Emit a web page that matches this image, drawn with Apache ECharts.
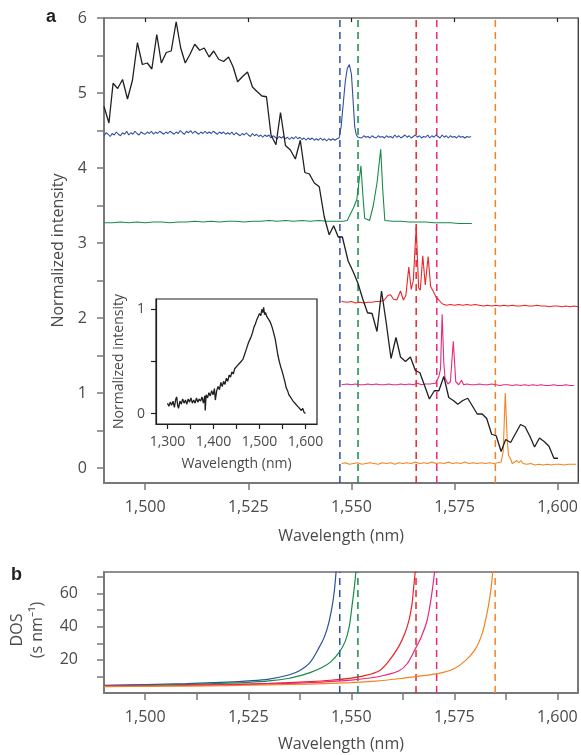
<!DOCTYPE html>
<html>
<head>
<meta charset="utf-8">
<script src="https://cdn.jsdelivr.net/npm/echarts@6/dist/echarts.min.js"></script>
<style>html,body{margin:0;padding:0;background:#fff}#c{width:581px;height:755px}</style>
</head>
<body>
<div id="c"></div>
<script>
// ---------- DATA ----------
const resonances = [1547.2, 1551.6, 1565.7, 1570.7, 1584.9];
const colors = ['#2d4f9e', '#188a4a', '#e8252a', '#e6287f', '#f58220'];

const xTicksMain = [1500, 1525, 1550, 1575, 1600];
const xMinorBottom = [1500, 1512.5, 1525, 1537.5, 1550, 1562.5, 1575, 1587.5, 1600];
const yTicksMain = [0, 0.5, 1, 1.5, 2, 2.5, 3, 3.5, 4, 4.5, 5, 5.5, 6];
const yLabelsMain = [0, 1, 2, 3, 4, 5, 6];
const insetXTicks = [1300, 1350, 1400, 1450, 1500, 1550, 1600];
const insetXLabels = [1300, 1400, 1500, 1600];
const insetYTicks = [0, 0.5, 1];
const insetYLabels = [0, 1];
const dosYTicks = [10, 20, 30, 40, 50, 60, 70];
const dosYLabels = [20, 40, 60];

// black broad spectrum (panel a)
const pumpSpectrum = [
[1490.0,4.82],[1491.2,4.60],[1492.2,5.13],[1493.3,5.06],[1494.5,5.18],[1495.7,4.92],[1496.9,5.17],[1498.1,5.67],
[1499.3,5.38],[1500.5,5.40],[1501.6,5.32],[1502.8,5.78],[1503.9,5.40],[1505.1,5.54],[1506.3,5.56],[1507.5,5.95],
[1508.6,5.60],[1509.7,5.40],[1510.8,5.51],[1512.0,5.65],[1513.2,5.57],[1514.3,5.60],[1515.5,5.48],[1516.6,5.56],
[1517.8,5.45],[1519.0,5.42],[1520.2,5.48],[1521.3,5.35],[1522.4,5.15],[1523.6,5.22],[1524.8,5.28],[1526.0,5.08],
[1527.1,5.02],[1528.3,4.96],[1529.4,4.95],[1530.5,4.44],[1531.7,4.31],[1532.8,4.74],[1534.0,4.30],[1535.2,4.24],
[1536.4,4.12],[1537.6,4.37],[1538.7,3.94],[1539.8,3.92],[1541.0,3.80],[1542.2,3.75],[1543.4,3.35],[1544.6,3.11],
[1545.7,3.23],[1546.8,3.08],[1547.8,3.08],[1549.2,2.76],[1550.4,2.62],[1551.6,2.46],[1552.7,2.26],[1553.9,2.07],
[1555.0,2.06],[1556.2,1.82],[1557.3,2.36],[1558.4,1.95],[1559.6,1.46],[1560.8,1.74],[1561.9,1.48],[1563.1,1.42],
[1564.3,1.48],[1565.5,1.30],[1566.6,1.27],[1567.8,1.09],[1568.9,0.92],[1570.1,1.03],[1571.2,1.03],[1572.4,1.22],
[1573.6,0.94],[1574.7,0.90],[1575.8,0.85],[1577.0,0.90],[1578.2,0.93],[1579.3,0.83],[1580.5,0.72],[1581.7,0.72],
[1582.8,0.66],[1584.0,0.45],[1585.1,0.43],[1586.3,0.22],[1587.4,0.38],[1588.6,0.34],[1589.8,0.46],[1591.0,0.58],
[1592.1,0.55],[1593.3,0.42],[1594.4,0.28],[1595.6,0.40],[1596.8,0.35],[1597.9,0.29],[1599.1,0.13],[1600.1,0.13]
];

const blueSpectrum = [
[1490,4.43],[1490.5,4.47],[1491,4.45],[1491.5,4.42],[1492,4.46],[1492.5,4.44],[1493,4.48],[1493.5,4.45],[1494,4.43],[1494.5,4.47],
[1495,4.45],[1495.5,4.49],[1496,4.44],[1496.5,4.47],[1497,4.45],[1497.5,4.49],[1498,4.46],[1498.5,4.44],[1499,4.48],[1499.5,4.46],
[1500,4.45],[1500.5,4.48],[1501,4.46],[1501.5,4.49],[1502,4.45],[1502.5,4.48],[1503,4.46],[1503.5,4.49],[1504,4.47],[1504.5,4.45],
[1505,4.48],[1505.5,4.46],[1506,4.49],[1506.5,4.47],[1507,4.45],[1507.5,4.48],[1508,4.46],[1508.5,4.50],[1509,4.47],[1509.5,4.45],
[1510,4.49],[1510.5,4.47],[1511,4.50],[1511.5,4.46],[1512,4.49],[1512.5,4.47],[1513,4.45],[1513.5,4.48],[1514,4.46],[1514.5,4.49],
[1515,4.46],[1515.5,4.48],[1516,4.46],[1516.5,4.49],[1517,4.47],[1517.5,4.45],[1518,4.48],[1518.5,4.46],[1519,4.48],[1519.5,4.45],
[1520,4.47],[1520.5,4.45],[1521,4.48],[1521.5,4.44],[1522,4.47],[1522.5,4.45],[1523,4.43],[1523.5,4.46],[1524,4.44],[1524.5,4.47],
[1525,4.44],[1525.5,4.42],[1526,4.46],[1526.5,4.43],[1527,4.45],[1527.5,4.42],[1528,4.44],[1528.5,4.41],[1529,4.44],[1529.5,4.42],
[1530,4.44],[1530.5,4.40],[1531,4.43],[1531.5,4.41],[1532,4.39],[1532.5,4.42],[1533,4.40],[1533.5,4.42],[1534,4.39],[1534.5,4.41],
[1535,4.38],[1535.5,4.41],[1536,4.39],[1536.5,4.42],[1537,4.39],[1537.5,4.41],[1538,4.38],[1538.5,4.40],[1539,4.37],[1539.5,4.40],
[1540,4.38],[1540.5,4.40],[1541,4.37],[1541.5,4.39],[1542,4.37],[1542.5,4.40],[1543,4.37],[1543.5,4.39],[1544,4.36],[1544.5,4.39],
[1545,4.37],[1545.5,4.39],[1546,4.37],[1546.5,4.39],[1547,4.40],[1547.5,4.55],[1548,4.85],[1548.5,5.15],[1549,5.33],[1549.5,5.38],
[1550,5.25],[1550.4,4.90],[1550.8,4.55],[1551.2,4.44],[1551.6,4.41],[1552,4.43],[1552.5,4.40],[1553,4.43],[1553.5,4.41],[1554,4.42],
[1554.5,4.40],[1555,4.43],[1555.5,4.41],[1556,4.40],[1556.5,4.43],[1557,4.41],[1557.5,4.42],[1558,4.40],[1558.5,4.43],[1559,4.41],
[1559.5,4.42],[1560,4.40],[1560.5,4.44],[1561,4.41],[1561.5,4.43],[1562,4.40],[1562.5,4.42],[1563,4.44],[1563.5,4.41],[1564,4.43],
[1564.5,4.40],[1565,4.42],[1565.5,4.44],[1566,4.41],[1566.5,4.43],[1567,4.40],[1567.5,4.42],[1568,4.41],[1568.5,4.44],[1569,4.40],
[1569.5,4.43],[1570,4.41],[1570.5,4.44],[1571,4.42],[1571.5,4.40],[1572,4.44],[1572.5,4.41],[1573,4.43],[1573.5,4.40],[1574,4.43],
[1574.5,4.41],[1575,4.42],[1575.5,4.40],[1576,4.43],[1576.5,4.41],[1577,4.42],[1577.5,4.40],[1578,4.42],[1578.5,4.41],[1579,4.42]
];

const greenSpectrum = [
[1490,3.27],[1492,3.27],[1494,3.28],[1496,3.27],[1498,3.28],[1500,3.27],[1502,3.28],[1504,3.28],[1506,3.27],[1508,3.28],
[1510,3.28],[1512,3.29],[1514,3.28],[1516,3.29],[1518,3.28],[1520,3.29],[1522,3.29],[1524,3.28],[1526,3.29],[1528,3.29],
[1530,3.30],[1532,3.29],[1534,3.30],[1536,3.29],[1538,3.30],[1540,3.29],[1542,3.30],[1544,3.29],[1546,3.29],[1548,3.29],
[1549,3.30],[1549.5,3.36],[1550.5,3.47],[1551.3,3.58],[1551.8,3.80],[1552.3,4.03],[1552.7,3.70],[1553.2,3.33],[1554.4,3.30],
[1555.3,3.50],[1556.2,3.80],[1557.1,4.25],[1557.6,3.70],[1558.1,3.30],[1560,3.29],[1562,3.29],[1564,3.28],[1566,3.28],
[1568,3.28],[1570,3.27],[1572,3.27],[1574,3.27],[1576,3.26],[1578,3.26],[1579.2,3.26]
];

const redSpectrum = [
[1547.6,2.22],[1549,2.21],[1550,2.22],[1551,2.20],[1552,2.21],[1553,2.20],[1554,2.21],[1555,2.21],[1556,2.22],[1557,2.22],
[1558,2.24],[1558.8,2.30],[1559.5,2.31],[1560.2,2.25],[1561,2.24],[1561.9,2.36],[1562.6,2.24],[1563.2,2.30],[1563.9,2.68],
[1564.5,2.38],[1565.0,2.50],[1565.7,3.21],[1566.3,2.40],[1566.7,2.37],[1567.3,2.83],[1567.9,2.44],[1568.6,2.82],[1569.2,2.42],
[1569.9,2.35],[1570.5,2.28],[1571.2,2.24],[1572,2.19],[1573,2.17],[1574,2.18],[1575,2.17],[1576,2.18],[1577,2.17],[1578,2.18],
[1579,2.17],[1580,2.18],[1581,2.17],[1582,2.16],[1583,2.17],[1584,2.16],[1585,2.17],[1586,2.16],[1587,2.17],[1588,2.16],
[1589,2.17],[1590,2.16],[1591,2.16],[1592,2.17],[1593,2.16],[1594,2.16],[1595,2.17],[1596,2.16],[1597,2.16],[1598,2.15],
[1599,2.16],[1600,2.16],[1601,2.15],[1602,2.16],[1603,2.15],[1604,2.16],[1605,2.15]
];

const pinkSpectrum = [
[1547.6,1.11],[1549,1.12],[1550,1.11],[1551,1.12],[1552,1.11],[1553,1.11],[1554,1.12],[1555,1.11],[1556,1.12],[1557,1.11],
[1558,1.11],[1559,1.12],[1560,1.11],[1561,1.11],[1562,1.12],[1563,1.11],[1564,1.12],[1565,1.11],[1566,1.13],[1567,1.11],
[1568,1.12],[1569,1.12],[1570.4,1.13],[1571.2,1.22],[1571.6,1.32],[1572.0,2.05],[1572.4,1.40],[1572.7,1.20],[1573.0,1.22],
[1573.4,1.12],[1574.0,1.15],[1574.7,1.69],[1575.3,1.15],[1576,1.11],[1576.7,1.17],[1577.2,1.11],[1578,1.12],[1579,1.11],
[1580,1.11],[1581,1.12],[1582,1.11],[1583,1.11],[1584,1.12],[1585,1.11],[1586,1.10],[1587,1.11],[1588,1.11],[1589,1.10],
[1590,1.11],[1591,1.10],[1592,1.11],[1593,1.10],[1594,1.11],[1595,1.10],[1596,1.11],[1597,1.10],[1598,1.10],[1599,1.11],
[1600,1.10],[1601,1.10],[1602,1.11],[1603,1.10],[1604,1.10]
];

const orangeSpectrum = [
[1547.6,0.06],[1548.5,0.07],[1549.5,0.05],[1550.5,0.06],[1551.5,0.07],[1552.5,0.05],[1553.5,0.06],[1554.5,0.07],[1555.5,0.06],
[1556.5,0.05],[1557.5,0.07],[1558.5,0.06],[1559.5,0.07],[1560.5,0.05],[1561.5,0.07],[1562.5,0.06],[1563.5,0.07],[1564.5,0.06],
[1565.5,0.08],[1566.5,0.06],[1567.5,0.07],[1568.5,0.06],[1569.5,0.08],[1570.5,0.06],[1571.5,0.07],[1572.5,0.06],[1573.5,0.08],
[1574.5,0.06],[1575.5,0.07],[1576.5,0.06],[1577.5,0.08],[1578.5,0.06],[1579.5,0.07],[1580.5,0.06],[1581.5,0.07],[1582.5,0.06],
[1583.5,0.07],[1584.5,0.06],[1585.5,0.07],[1586.3,0.08],[1586.8,0.22],[1587.3,1.00],[1587.8,0.35],[1588.1,0.17],[1588.6,0.12],
[1589.0,0.06],[1589.6,0.08],[1590.1,0.10],[1590.6,0.07],[1591.1,0.10],[1591.6,0.06],[1592.5,0.05],[1593.5,0.06],[1594.5,0.04],
[1595.5,0.05],[1596.5,0.04],[1597.5,0.05],[1598.5,0.04],[1599.5,0.05],[1600.5,0.05],[1601.5,0.04],[1602.5,0.05],[1603.5,0.05],[1604.5,0.05]
];

// inset broad emission
const insetSpectrum = [
[1300,0.10],[1303,0.07],[1306,0.11],[1309,0.08],[1312,0.12],[1315,0.06],[1318,0.14],[1320,0.16],[1322,0.08],[1324,0.05],
[1327,0.12],[1330,0.09],[1333,0.14],[1336,0.10],[1339,0.13],[1342,0.09],[1345,0.14],[1348,0.11],[1351,0.15],[1354,0.10],
[1357,0.13],[1360,0.10],[1363,0.15],[1366,0.11],[1369,0.14],[1372,0.12],[1375,0.16],[1378,0.10],[1381,0.17],[1382,0.03],
[1384,0.18],[1387,0.15],[1390,0.20],[1393,0.17],[1396,0.22],[1399,0.18],[1402,0.24],[1404,0.13],[1407,0.22],[1410,0.26],
[1413,0.23],[1416,0.30],[1419,0.26],[1422,0.31],[1425,0.28],[1428,0.34],[1431,0.31],[1434,0.37],[1437,0.35],[1440,0.40],
[1443,0.38],[1446,0.43],[1449,0.42],[1452,0.46],[1455,0.45],[1458,0.49],[1461,0.50],[1464,0.52],[1467,0.56],[1470,0.60],
[1473,0.64],[1476,0.68],[1479,0.71],[1482,0.74],[1485,0.78],[1488,0.83],[1491,0.86],[1494,0.90],[1497,0.93],[1500,0.96],
[1503,0.94],[1505,1.00],[1507,0.97],[1509,1.02],[1511,0.95],[1513,0.97],[1516,0.93],[1519,0.92],[1522,0.89],[1525,0.86],
[1528,0.82],[1531,0.77],[1534,0.72],[1537,0.64],[1540,0.56],[1543,0.50],[1546,0.45],[1549,0.41],[1552,0.36],[1555,0.31],
[1558,0.25],[1561,0.22],[1564,0.18],[1567,0.16],[1570,0.14],[1573,0.12],[1576,0.13],[1579,0.09],[1582,0.10],[1585,0.06],
[1588,0.07],[1591,0.03],[1594,0.05],[1597,0.01],[1600,0.00]
];

// density of states (panel b)
const dosBlue = [[1490,4.6],[1500,5.1],[1510,5.7],[1520,6.6],[1525,7.3],[1530,8.4],[1535,11.0],[1537.5,13.6],[1540,18.5],
[1542.2,27.5],[1543.5,34],[1544.5,42],[1545.4,53],[1545.9,62],[1546.3,73],[1546.5,80]];
const dosGreen = [[1490,4.3],[1500,4.7],[1510,5.2],[1520,5.9],[1525,6.4],[1530,7.3],[1535,8.9],[1537.3,10.3],[1540,12.3],
[1543,15.5],[1545,18.8],[1547,24.4],[1548.5,31],[1549.5,40],[1550.2,53],[1550.7,63],[1551.1,73],[1551.3,80]];
const dosRed = [[1490,4.2],[1500,4.4],[1510,4.7],[1520,5.1],[1530,5.8],[1540,6.9],[1545,7.7],[1550,9.0],[1553,10.3],
[1556.7,13.3],[1559,19],[1561.5,28],[1563,36],[1564,44],[1564.7,53],[1565.1,63],[1565.5,73],[1565.7,80]];
const dosPink = [[1490,4.1],[1500,4.3],[1510,4.6],[1520,5.0],[1530,5.5],[1540,6.3],[1550,7.8],[1555,9.2],[1558,10.7],
[1561.5,13.3],[1563.5,17.5],[1565.5,26.5],[1567,34],[1568.3,43],[1569.1,53],[1569.7,63],[1570.2,73],[1570.4,80]];
const dosOrange = [[1490,3.8],[1500,4.0],[1510,4.2],[1520,4.5],[1530,4.9],[1540,5.4],[1550,6.3],[1556,7.2],[1561.5,8.6],
[1566,10.0],[1571.2,11.8],[1575,14.8],[1577.6,19.4],[1580,26],[1581.5,34],[1582.4,42],[1583.3,53],[1583.9,63],[1584.3,73],[1584.5,80]];

// ---------- CHART ----------
const FONT = "'Open Sans', 'Liberation Sans', sans-serif";
const TXT = '#4a4a4c';
const AX = '#77787b';
const fmt = v => Number(v).toLocaleString('en-US');

const chart = echarts.init(document.getElementById('c'), null, {renderer: 'canvas'});

const spectra = [blueSpectrum, greenSpectrum, redSpectrum, pinkSpectrum, orangeSpectrum];
const dosCurves = [dosBlue, dosGreen, dosRed, dosPink, dosOrange];

const series = [];
resonances.forEach((r, i) => {
  series.push({type:'line', xAxisIndex:0, yAxisIndex:0, data:[[r,-0.2],[r,6]], symbol:'none', silent:true,
    lineStyle:{color:colors[i], width:1.5, type:[7,5]}, z:1});
  series.push({type:'line', xAxisIndex:3, yAxisIndex:2, data:[[r,0],[r,73]], symbol:'none', silent:true,
    lineStyle:{color:colors[i], width:1.5, type:[7,5]}, z:1});
});
spectra.forEach((d, i) => {
  series.push({type:'line', xAxisIndex:0, yAxisIndex:0, data:d, symbol:'none', lineStyle:{color:colors[i], width:1.1}, z:2});
});
series.push({type:'line', xAxisIndex:0, yAxisIndex:0, data:pumpSpectrum, symbol:'none', lineStyle:{color:'#231f20', width:1.3}, z:3});
series.push({type:'line', xAxisIndex:2, yAxisIndex:1, data:insetSpectrum, symbol:'none', lineStyle:{color:'#231f20', width:1.3}, z:3});
dosCurves.forEach((d, i) => {
  series.push({type:'line', xAxisIndex:3, yAxisIndex:2, data:d, symbol:'none', smooth:0.3, lineStyle:{color:colors[i], width:1.2}, z:2});
});

const lbl = (extra) => Object.assign({color:TXT, fontFamily:FONT, fontSize:16}, extra);

const option = {
  animation:false,
  backgroundColor:'#fff',
  grid:[
    {left:104, top:18, width:475, height:465, show:true, borderColor:'#231f20', borderWidth:1.2, backgroundColor:'transparent'},
    {left:156, top:299, width:161, height:125, show:true, borderColor:'#231f20', borderWidth:1.2, backgroundColor:'#fff'},
    {left:104, top:572, width:474, height:121, show:true, borderColor:'#231f20', borderWidth:1.2, backgroundColor:'transparent'}
  ],
  xAxis:[
    {type:'value', gridIndex:0, min:1490, max:1605, position:'bottom',
      axisLine:{show:true, onZero:false, lineStyle:{color:AX, width:2}},
      axisTick:{show:true, length:7, customValues:xTicksMain, lineStyle:{color:AX, width:1.5}},
      axisLabel:{customValues:xTicksMain, formatter:fmt, margin:16, ...lbl({})},
      splitLine:{show:false},
      name:'Wavelength (nm)', nameLocation:'middle', nameGap:45, nameTextStyle:lbl({})},
    {type:'value', gridIndex:0, min:1490, max:1605, position:'top',
      axisLine:{show:false, onZero:false}, axisTick:{show:true, inside:true, length:4, customValues:xTicksMain, lineStyle:{color:'#231f20', width:1.2}},
      axisLabel:{show:false}, splitLine:{show:false}},
    {type:'value', gridIndex:1, min:1275, max:1625, position:'bottom',
      axisLine:{show:true, onZero:false, lineStyle:{color:'#231f20', width:1.2}},
      axisTick:{show:true, length:5, customValues:insetXTicks, lineStyle:{color:'#231f20', width:1.2}},
      axisLabel:{customValues:insetXLabels, formatter:fmt, margin:11, ...lbl({fontSize:14})},
      splitLine:{show:false},
      name:'Wavelength (nm)', nameLocation:'middle', nameGap:33, nameTextStyle:lbl({fontSize:14})},
    {type:'value', gridIndex:2, min:1490, max:1605, position:'bottom',
      axisLine:{show:true, onZero:false, lineStyle:{color:AX, width:2}},
      axisTick:{show:true, length:7, customValues:xMinorBottom, lineStyle:{color:AX, width:1.5}},
      axisLabel:{customValues:xTicksMain, formatter:fmt, margin:16, ...lbl({})},
      splitLine:{show:false},
      name:'Wavelength (nm)', nameLocation:'middle', nameGap:43, nameTextStyle:lbl({})}
  ],
  yAxis:[
    {type:'value', gridIndex:0, min:-0.2, max:6,
      axisLine:{show:true, onZero:false, lineStyle:{color:AX, width:2}},
      axisTick:{show:true, length:7, customValues:yTicksMain, lineStyle:{color:AX, width:1.5}},
      axisLabel:{customValues:yLabelsMain, margin:17, ...lbl({})},
      splitLine:{show:false},
      name:'Normalized intensity', nameLocation:'middle', nameGap:38, nameRotate:90, nameTextStyle:lbl({})},
    {type:'value', gridIndex:1, min:-0.1, max:1.1,
      axisLine:{show:true, onZero:false, lineStyle:{color:'#231f20', width:1.2}},
      axisTick:{show:true, length:5, customValues:insetYTicks, lineStyle:{color:'#231f20', width:1.2}},
      axisLabel:{customValues:insetYLabels, margin:11, ...lbl({fontSize:14})},
      splitLine:{show:false},
      name:'Normalized intensity', nameLocation:'middle', nameGap:30, nameRotate:90, nameTextStyle:lbl({fontSize:14})},
    {type:'value', gridIndex:2, min:0, max:73,
      axisLine:{show:true, onZero:false, lineStyle:{color:AX, width:2}},
      axisTick:{show:true, length:7, customValues:dosYTicks, lineStyle:{color:AX, width:1.5}},
      axisLabel:{customValues:dosYLabels, margin:26, ...lbl({})},
      splitLine:{show:false}}
  ],
  graphic:[
    {type:'text', left:46, top:8, style:{text:'a', fill:'#231f20', font:"bold 18px 'Liberation Sans', sans-serif"}},
    {type:'text', left:11, top:566, style:{text:'b', fill:'#231f20', font:"bold 18px 'Liberation Sans', sans-serif"}},
    {type:'text', x:27, y:630, rotation:Math.PI/2,
      style:{text:'DOS\n(s nm\u207B\u00B9)', fill:TXT, font:"16px 'Open Sans', sans-serif", align:'center', verticalAlign:'middle', lineHeight:20}}
  ],
  series:series
};
chart.setOption(option);
</script>
</body>
</html>
